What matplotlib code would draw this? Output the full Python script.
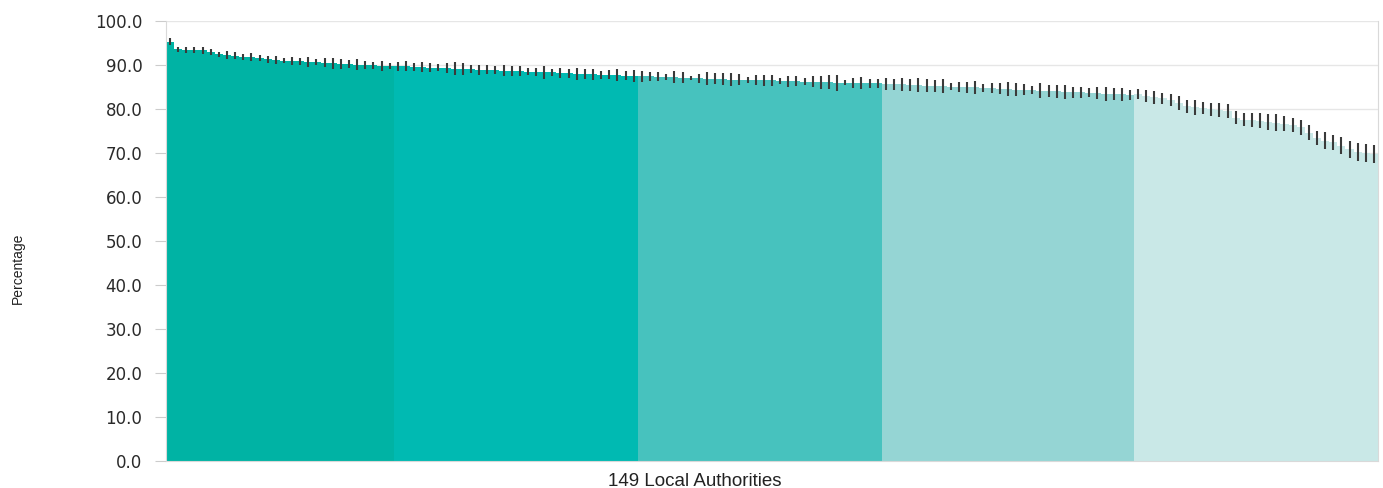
import numpy as np
import matplotlib.pyplot as plt

# percentage per local authority, sorted high to low, in five bands
band1 = [95.3, 93.6, 93.5, 93.4, 93.3, 93.0, 92.4, 92.3, 92.1, 91.9,
         91.8, 91.6, 91.3, 91.1, 91.0, 90.9, 90.8, 90.7, 90.6, 90.5,
         90.4, 90.3, 90.2, 90.1, 90.0, 89.9, 89.8, 89.8]
band2 = [89.7, 89.7, 89.6, 89.5, 89.4, 89.4, 89.3, 89.2, 89.1, 89.0,
         88.9, 88.9, 88.8, 88.7, 88.6, 88.6, 88.5, 88.4, 88.3, 88.3,
         88.2, 88.1, 88.0, 88.0, 87.9, 87.8, 87.8, 87.7, 87.6, 87.5]
band3 = [87.4, 87.4, 87.3, 87.2, 87.2, 87.1, 87.0, 87.0, 86.9, 86.9,
         86.8, 86.7, 86.7, 86.6, 86.6, 86.5, 86.5, 86.4, 86.3, 86.3,
         86.2, 86.2, 86.1, 86.1, 86.0, 86.0, 85.9, 85.9, 85.8, 85.8]
band4 = [85.7, 85.6, 85.6, 85.5, 85.4, 85.3, 85.3, 85.2, 85.1, 85.0,
         84.9, 84.9, 84.8, 84.7, 84.6, 84.5, 84.4, 84.4, 84.3, 84.2,
         84.1, 84.0, 83.9, 83.8, 83.8, 83.7, 83.6, 83.5, 83.4, 83.3, 83.2]
band5 = [83.4, 83.0, 82.7, 82.4, 82.0, 81.3, 80.6, 80.4, 80.2, 79.9,
         79.7, 79.6, 78.0, 77.6, 77.4, 77.3, 77.1, 76.9, 76.6, 76.4,
         75.8, 74.6, 73.5, 72.8, 72.4, 71.7, 70.8, 70.2, 70.0, 69.8]

# half-width of the confidence interval for each authority
err1 = [0.8, 0.6, 0.7, 0.6, 0.8, 0.7, 0.6, 0.9, 0.8, 0.7,
        0.9, 0.7, 0.8, 0.9, 0.6, 1.0, 0.8, 1.2, 0.7, 1.0,
        1.3, 1.1, 0.9, 1.2, 1.0, 0.8, 1.1, 0.6]
err2 = [1.0, 1.1, 0.9, 1.2, 1.0, 0.8, 1.1, 1.4, 1.3, 0.9,
        1.2, 1.0, 0.9, 1.3, 1.1, 1.2, 0.8, 1.0, 1.4, 0.7,
        1.2, 1.0, 1.3, 1.1, 1.2, 0.9, 1.0, 1.3, 1.1, 1.4]
err3 = [1.2, 1.1, 1.0, 0.7, 1.4, 1.3, 0.5, 1.0, 1.5, 1.2,
        1.3, 1.4, 1.2, 0.6, 1.1, 1.3, 1.2, 0.7, 1.3, 1.1,
        0.8, 1.2, 1.5, 1.6, 1.8, 0.6, 1.2, 1.4, 1.1, 1.0]
err4 = [1.3, 1.2, 1.5, 1.4, 1.6, 1.5, 1.4, 1.6, 0.8, 1.2,
        1.3, 1.4, 0.9, 1.1, 1.2, 1.6, 1.5, 1.3, 1.0, 1.6,
        1.4, 1.5, 1.6, 1.2, 1.3, 1.0, 1.4, 1.6, 1.4, 1.5, 1.2]
err5 = [1.2, 1.4, 1.5, 1.3, 1.4, 1.6, 1.5, 1.7, 1.4, 1.5,
        1.6, 1.6, 1.5, 1.4, 1.6, 1.7, 1.8, 1.9, 1.7, 1.6,
        1.8, 1.7, 1.6, 1.9, 1.8, 1.9, 2.0, 2.1, 2.0, 2.0]

bands = [band1, band2, band3, band4, band5]
errs = [err1, err2, err3, err4, err5]
band_colors = ['#00B3A4', '#00BAB2', '#47C2BE', '#95D5D4', '#C9E8E7']

plt.rcParams['font.family'] = ['DejaVu Sans']

fig = plt.figure(figsize=(13.83, 4.88), dpi=100)
ax = fig.add_axes([0.120, 0.0553, 0.8764, 0.9017])

start = 0
for vals, e, c in zip(bands, errs, band_colors):
    x = np.arange(start, start + len(vals))
    ax.bar(x, vals, width=1.0, color=c, edgecolor='none', zorder=2)
    ax.errorbar(x, vals, yerr=e, fmt='none', ecolor='#3a3a3a',
                elinewidth=1.5, capsize=0, zorder=3)
    start += len(vals)

ax.set_xlim(-0.5, start - 0.5)
ax.set_ylim(0, 100)
ax.set_yticks(np.arange(0, 101, 10))
ax.set_yticklabels(['%.1f' % v for v in np.arange(0, 101, 10)],
                   fontsize=12, color='#2a2a2a')
ax.set_xticks([])
ax.yaxis.grid(True, color='#e6e6e6', linewidth=1.0, zorder=0)
ax.set_axisbelow(True)
ax.tick_params(axis='y', length=8, color='#cccccc', pad=9)

for side in ['left', 'bottom', 'right']:
    ax.spines[side].set_color('#d9d9d9')
ax.spines['top'].set_visible(False)

fig.text(695 / 1383, 1 - 481 / 488, '149 Local Authorities', fontsize=13.5,
         color='#222222', ha='center', va='center',
         family=['Liberation Sans', 'DejaVu Sans'])
fig.text(18 / 1383, 1 - 268 / 488, 'Percentage', fontsize=10, rotation=90,
         color='#222222', ha='center', va='center',
         family=['Liberation Sans Narrow', 'Liberation Sans', 'DejaVu Sans'])

plt.savefig('out.png', dpi=100)
